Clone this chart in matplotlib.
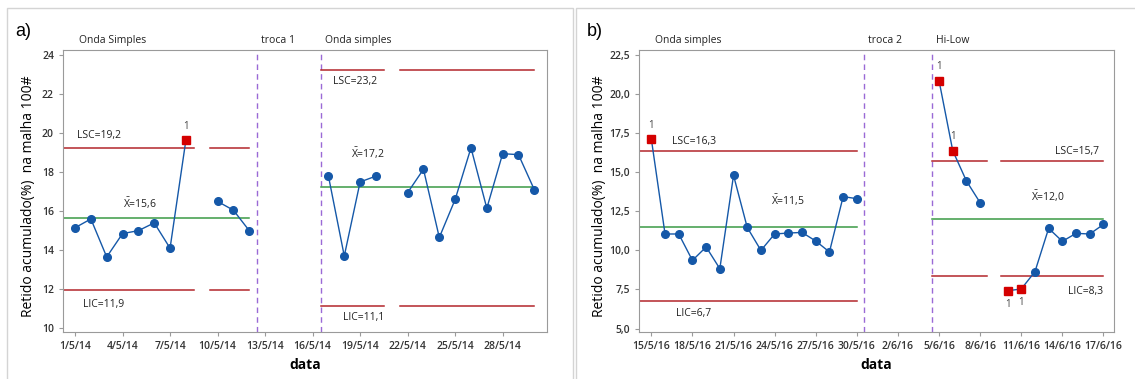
import numpy as np
import pandas as pd
import matplotlib
matplotlib.use('Agg')
import matplotlib.pyplot as plt
from matplotlib.patches import Rectangle

plt.rcParams['font.family'] = ['Open Sans', 'DejaVu Sans']
plt.rcParams['mathtext.fontset'] = 'custom'
plt.rcParams['mathtext.rm'] = 'Open Sans'
plt.rcParams['mathtext.it'] = 'Open Sans'

nan = np.nan

# painel a) - maio 2014
a_dates = ['1/5/14', '2/5/14', '3/5/14', '4/5/14', '5/5/14', '6/5/14', '7/5/14', '8/5/14',
           '9/5/14', '10/5/14', '11/5/14', '12/5/14', '13/5/14', '14/5/14', '15/5/14',
           '16/5/14', '17/5/14', '18/5/14', '19/5/14', '20/5/14', '21/5/14', '22/5/14',
           '23/5/14', '24/5/14', '25/5/14', '26/5/14', '27/5/14', '28/5/14', '29/5/14',
           '30/5/14']
a_vals = [15.15, 15.6, 13.65, 14.85, 15.0, 15.4, 14.1, 19.65,
          nan, 16.5, 16.05, 15.0, nan, nan, nan,
          nan, 17.8, 13.7, 17.5, 17.8, nan, 16.95,
          18.15, 14.65, 16.6, 19.25, 16.15, 18.95, 18.9,
          17.1]
a_out = ['8/5/14']
a_ticks = ['1/5/14', '4/5/14', '7/5/14', '10/5/14', '13/5/14', '16/5/14',
           '19/5/14', '22/5/14', '25/5/14', '28/5/14']
a_stage_names = ['Onda Simples', 'troca 1', 'Onda simples']
a_stage_start = ['1/5/14', '13/5/14', '17/5/14']
a_stage_end = ['12/5/14', '16/5/14', '30/5/14']
a_lsc = [19.24, None, 23.24]
a_lc = [15.64, None, 17.22]
a_lic = [11.94, None, 11.14]

# painel b) - maio/junho 2016
b_dates = ['15/5/16', '16/5/16', '17/5/16', '18/5/16', '19/5/16', '20/5/16', '21/5/16',
           '22/5/16', '23/5/16', '24/5/16', '25/5/16', '26/5/16', '27/5/16', '28/5/16',
           '29/5/16', '30/5/16', '31/5/16', '1/6/16', '2/6/16', '3/6/16', '4/6/16',
           '5/6/16', '6/6/16', '7/6/16', '8/6/16', '9/6/16', '10/6/16', '11/6/16',
           '12/6/16', '13/6/16', '14/6/16', '15/6/16', '16/6/16', '17/6/16']
b_vals = [17.13, 11.05, 11.05, 9.36, 10.22, 8.83, 14.8,
          11.47, 10.0, 11.05, 11.11, 11.15, 10.6, 9.9,
          13.44, 13.31, nan, nan, nan, nan, nan,
          20.86, 16.38, 14.44, 13.05, nan, 7.42, 7.53,
          8.64, 11.41, 10.58, 11.09, 11.05, 11.66]
b_out = ['15/5/16', '5/6/16', '6/6/16', '10/6/16', '11/6/16']
b_ticks = ['15/5/16', '18/5/16', '21/5/16', '24/5/16', '27/5/16', '30/5/16',
           '2/6/16', '5/6/16', '8/6/16', '11/6/16', '14/6/16', '17/6/16']
b_stage_names = ['Onda simples', 'troca 2', 'Hi-Low']
b_stage_start = ['15/5/16', '31/5/16', '5/6/16']
b_stage_end = ['30/5/16', '4/6/16', '17/6/16']
b_lsc = [16.34, None, 15.74]
b_lc = [11.52, None, 12.02]
b_lic = [6.74, None, 8.34]

blue = '#1558a8'
red = '#d40000'
lim_red = '#b3262b'
green = '#3a9a45'
purple = '#9a6ad6'
grey = '#9a9a9a'
XBAR = r'$\bar{\mathrm{X}}$'


def fmt(v):
    return ('%.1f' % v).replace('.', ',')


def to_day(dates, d0):
    return (pd.to_datetime(pd.Series(dates), dayfirst=True) - d0).dt.days.to_numpy()


def panel(ax, dates, vals, out, ticks, names, st, en, lsc, lc, lic,
          xlim, ylim, yticks, yfmt, lab_pos, ylab_x):
    d0 = pd.to_datetime(dates[0], dayfirst=True)
    x = to_day(dates, d0)
    y = np.array(vals, dtype=float)
    ax.set_xlim(*xlim)
    ax.set_ylim(*ylim)

    # linhas de controle
    s = to_day(st, d0)
    e = to_day(en, d0)
    for i in range(len(names)):
        if i > 0:
            ax.axvline(s[i] - 0.5, color=purple, ls=(0, (4, 3)), lw=1)
        if lsc[i] is None:
            continue
        left = xlim[0] if i == 0 else s[i] - 0.5
        right = e[i]
        idx = (x >= s[i]) & (x <= e[i])
        miss = x[idx][np.isnan(y[idx])]
        bounds = [left]
        for m in miss:
            bounds += [m - 0.5, m + 0.5]
        bounds.append(right)
        for j in range(0, len(bounds), 2):
            ax.plot([bounds[j], bounds[j + 1]], [lsc[i]] * 2, color=lim_red, lw=1.1)
            ax.plot([bounds[j], bounds[j + 1]], [lic[i]] * 2, color=lim_red, lw=1.1)
        ax.plot([left, right], [lc[i]] * 2, color=green, lw=1.1)

    ax.plot(x, y, '-', color=blue, lw=1, marker='o', ms=5.5, mec=blue, mfc=blue, zorder=3)
    xo = to_day(out, d0)
    yo = np.array([y[list(x).index(v)] for v in xo])
    ax.plot(xo, yo, 's', color=red, ms=6, mec=red, zorder=4)
    mean_all = np.nanmean(y)
    for xx, yy in zip(xo, yo):
        if yy > mean_all:
            ax.annotate('1', (xx, yy), xytext=(0, 6), textcoords='offset points',
                        ha='center', va='bottom', fontsize=7, color='#444444')
        else:
            ax.annotate('1', (xx, yy), xytext=(0, -6), textcoords='offset points',
                        ha='center', va='top', fontsize=7, color='#444444')

    # nomes dos estágios
    for i, nm in enumerate(names):
        px = 0 if i == 0 else s[i] - 0.5
        ax.annotate(nm, (px, 1), xycoords=('data', 'axes fraction'), xytext=(3, 3),
                    textcoords='offset points', ha='left', va='bottom', fontsize=7.5,
                    color='#222222')

    # rótulos dos limites
    for (k, xx, yy, ha) in lab_pos:
        ax.text(xx, yy, k, ha=ha, va='center', fontsize=7.5, color='#222222')

    tx = to_day(ticks, d0)
    ax.set_xticks(tx)
    ax.set_xticklabels(ticks)
    ax.set_yticks(yticks)
    ax.set_yticklabels([yfmt(v) for v in yticks])
    for lb in ax.get_xticklabels() + ax.get_yticklabels():
        lb.set_fontweight('semibold')
    ax.tick_params(colors=grey, labelcolor='#333333', labelsize=7.5, length=3, width=0.8)
    for sp in ax.spines.values():
        sp.set_color(grey)
        sp.set_linewidth(0.8)
    ax.set_xlabel('data', fontsize=10, fontweight='bold', labelpad=4)
    ax.set_ylabel('Retido acumulado(%)  na malha 100#', fontsize=10)
    ax.yaxis.set_label_coords(ylab_x, 0.48)


fig = plt.figure(figsize=(11.35, 3.79), dpi=100)
W, H = 1135, 379

fig.add_artist(Rectangle((7 / W, -0.1), (573 - 7) / W, 1 - 8 / H + 0.1,
                         transform=fig.transFigure, fill=False, ec='#d4d4d4', lw=1))
fig.add_artist(Rectangle((576 / W, -0.1), 1.0, 1 - 8 / H + 0.1,
                         transform=fig.transFigure, fill=False, ec='#d4d4d4', lw=1))

ax1 = fig.add_axes([63 / W, 1 - 332 / H, (547 - 63) / W, (332 - 50) / H])
panel(ax1, a_dates, a_vals, a_out, a_ticks, a_stage_names, a_stage_start, a_stage_end,
      a_lsc, a_lc, a_lic, (-0.76, 29.8), (9.8, 24.27), list(range(10, 25, 2)),
      lambda v: '%d' % v,
      [('LSC=' + fmt(a_lsc[0]), 0.1, a_lsc[0] + 0.65, 'left'),
       (XBAR + '=' + fmt(a_lc[0]), 3.0, a_lc[0] + 0.75, 'left'),
       ('LIC=' + fmt(a_lic[0]), 0.5, a_lic[0] - 0.75, 'left'),
       ('LSC=' + fmt(a_lsc[2]), 16.3, a_lsc[2] - 0.6, 'left'),
       (XBAR + '=' + fmt(a_lc[2]), 17.4, a_lc[2] + 1.75, 'left'),
       ('LIC=' + fmt(a_lic[2]), 16.9, a_lic[2] - 0.6, 'left')],
      -0.056)

ax2 = fig.add_axes([639 / W, 1 - 332 / H, (1114 - 639) / W, (332 - 50) / H])
panel(ax2, b_dates, b_vals, b_out, b_ticks, b_stage_names, b_stage_start, b_stage_end,
      b_lsc, b_lc, b_lic, (-0.9, 33.77), (4.78, 22.82), [5 + 2.5 * i for i in range(8)],
      fmt,
      [('LSC=' + fmt(b_lsc[0]), 1.5, b_lsc[0] + 0.6, 'left'),
       (XBAR + '=' + fmt(b_lc[0]), 8.7, b_lc[0] + 1.7, 'left'),
       ('LIC=' + fmt(b_lic[0]), 1.8, b_lic[0] - 0.75, 'left'),
       ('LSC=' + fmt(b_lsc[2]), 32.7, b_lsc[2] + 0.6, 'right'),
       (XBAR + '=' + fmt(b_lc[2]), 27.7, b_lc[2] + 1.45, 'left'),
       ('LIC=' + fmt(b_lic[2]), 33.0, b_lic[2] - 1.0, 'right')],
      -0.068)

fig.text(15 / W, 1 - 32 / H, 'a)', fontsize=13, va='center', ha='left',
         family=['Liberation Sans', 'DejaVu Sans'])
fig.text(587 / W, 1 - 32 / H, 'b)', fontsize=13, va='center', ha='left',
         family=['Liberation Sans', 'DejaVu Sans'])

fig.savefig('out.png', dpi=100)
